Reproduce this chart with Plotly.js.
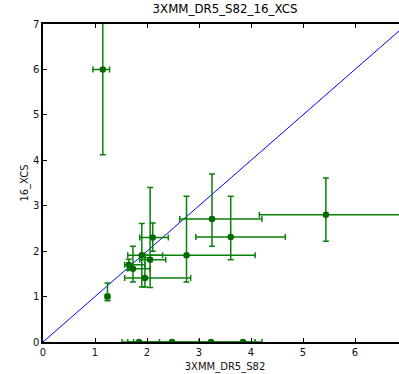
<!DOCTYPE html>
<html>
<head>
<meta charset="utf-8">
<script src="https://cdn.plot.ly/plotly-3.0.1.min.js"></script>
<style>
html, body { margin: 0; padding: 0; overflow: hidden; width: 399px; height: 374px; background: #fff; }
#chart { width: 410px; height: 374px; }
</style>
</head>
<body>
<div id="chart"></div>
<script>
// 3XMM_DR5_S82 (x) vs 16_XCS (y)
const xVals      = [1.15, 1.24, 1.65, 1.73, 1.90, 1.96, 2.06, 2.11, 2.76, 3.25, 3.61, 5.44, 1.846, 2.48, 3.23, 3.846];
const yVals      = [6.00, 1.00, 1.70, 1.61, 1.91, 1.41, 1.81, 2.30, 1.91, 2.71, 2.31, 2.80, 0, 0, 0, 0];
const xErrPlus   = [0.13, 0.04, 0.31, 0.33, 0.40, 0.88, 0.30, 0.30, 1.32, 0.96, 1.05, 1.60, 0.394, 0.52, 0.85, 0.364];
const xErrMinus  = [0.19, 0.04, 0.08, 0.10, 0.27, 0.39, 0.20, 0.25, 0.80, 0.62, 0.67, 1.28, 0.326, 0.736, 1.60, 0.846];
const yErrPlus   = [1.90, 0.30, 0.12, 0.50, 0.70, 0.45, 1.59, 0.32, 1.30, 0.99, 0.90, 0.81, 0, 0, 0, 0];
const yErrMinus  = [1.88, 0.09, 0.12, 0.29, 0.70, 0.20, 0.61, 0.30, 0.59, 0.60, 0.50, 0.58, 0, 0, 0, 0];
const lineX = [0, 7];
const lineY = [0, 7];
const xTicks = [0, 1, 2, 3, 4, 5, 6, 7];
const yTicks = [0, 1, 2, 3, 4, 5, 6, 7];

const green = '#0a800a';
const traces = [
  {
    x: lineX, y: lineY, type: 'scatter', mode: 'lines',
    line: {color: '#0000ff', width: 1}, hoverinfo: 'skip', showlegend: false
  },
  {
    x: xVals, y: yVals, type: 'scatter', mode: 'markers',
    marker: {color: '#006a00', size: 6.5},
    error_x: {type: 'data', symmetric: false, array: xErrPlus, arrayminus: xErrMinus,
              color: green, thickness: 1.5, width: 3},
    error_y: {type: 'data', symmetric: false, array: yErrPlus, arrayminus: yErrMinus,
              color: green, thickness: 1.5, width: 3},
    cliponaxis: true, showlegend: false
  }
];

const font = {family: 'DejaVu Sans, sans-serif', size: 10, color: '#111'};
const layout = {
  width: 410, height: 374,
  margin: {l: 43, r: 3, t: 24, b: 32},
  paper_bgcolor: '#fff', plot_bgcolor: '#fff',
  font: font,
  title: {text: '3XMM_DR5_S82_16_XCS', font: {family: 'DejaVu Sans, sans-serif', size: 11.8, color: '#000'},
          x: 0.5, xref: 'paper', xanchor: 'center', y: 1, yref: 'container', yanchor: 'top', pad: {t: 5}},
  xaxis: {
    range: [0, 7], tickvals: xTicks, ticktext: xTicks.map(String),
    ticks: 'inside', ticklen: 4, tickwidth: 1, tickcolor: '#000',
    showline: true, linecolor: '#000', linewidth: 1.6, mirror: 'ticks',
    showgrid: false, zeroline: false,
    title: {text: '3XMM_DR5_S82', font: font, standoff: 6},
    tickfont: font
  },
  yaxis: {
    range: [0, 7], tickvals: yTicks, ticktext: yTicks.map(String),
    ticks: 'inside', ticklen: 4, tickwidth: 1, tickcolor: '#000',
    showline: true, linecolor: '#000', linewidth: 1.6, mirror: 'ticks',
    showgrid: false, zeroline: false,
    title: {text: '16_XCS', font: font, standoff: 2},
    tickfont: font
  }
};
Plotly.newPlot('chart', traces, layout, {staticPlot: true, displayModeBar: false});
</script>
</body>
</html>
